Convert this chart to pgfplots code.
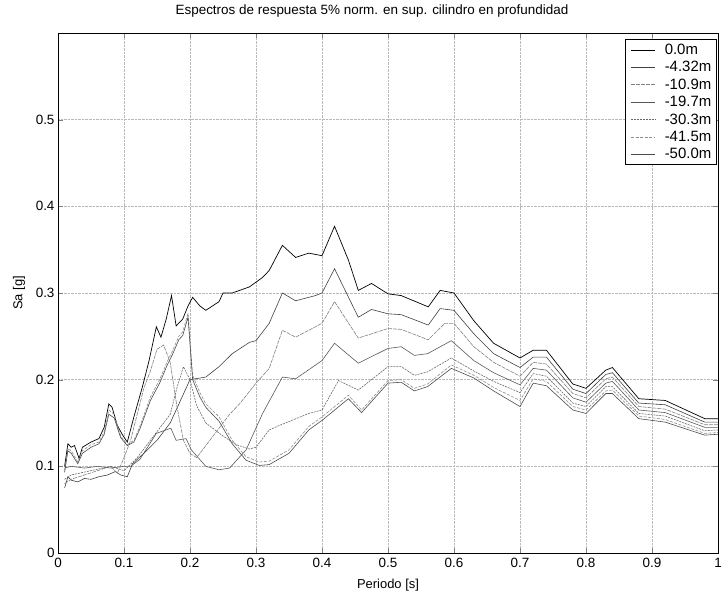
\documentclass[border=0pt]{standalone}
\usepackage{pgfplots}
\pgfplotsset{compat=1.18}
\usepackage{fontspec}
\setmainfont{Liberation Sans}
\begin{document}
\begin{tikzpicture}
\begin{axis}[
  name=ax,
  scale only axis,
  width=660bp, height=520bp,
  xmin=0, xmax=1, ymin=0, ymax=0.6,
  xtick={0,0.1,0.2,0.3,0.4,0.5,0.6,0.7,0.8,0.9,1},
  xticklabels={0,0.1,0.2,0.3,0.4,0.5,0.6,0.7,0.8,0.9,1},
  ytick={0,0.1,0.2,0.3,0.4,0.5,0.6},
  yticklabels={0,0.1,0.2,0.3,0.4,0.5,},
  tick align=inside,
  tick pos=both,
  major tick length=5bp,
  grid=major,
  grid style={densely dotted, gray!55, line width=0.4pt},
  axis line style={black, line width=0.6pt},
  /pgf/number format/assume math mode=true,
  tick label style={font=\fontsize{13.5}{15}\selectfont},
  xticklabel style={yshift=-2bp},
  xlabel={Periodo [s]}, ylabel={Sa [g]},
  label style={font=\fontsize{13}{15}\selectfont},
  xlabel style={at={(axis description cs:0.5,0)}, anchor=base, yshift=-36bp},
  ylabel style={at={(axis description cs:-0.054,0.5)}, anchor=base},
  title={Espectros de respuesta 5\% norm. en sup. cilindro en profundidad},
  title style={font=\fontsize{13.5}{15}\selectfont, at={(axis description cs:0.5,1)}, anchor=base, yshift=13bp, xshift=-16bp},
  legend style={at={(0.997,0.988)}, anchor=north east, draw=black, line width=0.5pt,
    font=\fontsize{15}{17}\selectfont, row sep=1.5bp, inner sep=2.5bp},
  legend cell align=left,
  legend image code/.code={\draw[#1] (0.1cm,0cm) -- (0.95cm,0cm); \path (0cm,0cm) (1.2cm,0cm);},
]
\addplot[black, line width=0.7pt] coordinates {(0.01,0.100)(0.015,0.126)(0.02,0.122)(0.025,0.124)(0.032,0.109)(0.037,0.122)(0.05,0.128)(0.062,0.132)(0.07,0.145)(0.077,0.172)(0.082,0.168)(0.09,0.147)(0.098,0.136)(0.105,0.128)(0.115,0.157)(0.128,0.192)(0.138,0.222)(0.149,0.261)(0.156,0.249)(0.164,0.270)(0.172,0.297)(0.179,0.262)(0.189,0.270)(0.197,0.285)(0.204,0.295)(0.215,0.285)(0.224,0.280)(0.244,0.290)(0.25,0.300)(0.264,0.300)(0.29,0.307)(0.31,0.318)(0.32,0.326)(0.34,0.355)(0.36,0.341)(0.38,0.346)(0.40,0.343)(0.419,0.377)(0.44,0.338)(0.455,0.303)(0.475,0.311)(0.50,0.299)(0.52,0.297)(0.561,0.284)(0.579,0.303)(0.60,0.300)(0.63,0.268)(0.66,0.242)(0.70,0.225)(0.72,0.234)(0.74,0.234)(0.78,0.195)(0.80,0.190)(0.83,0.211)(0.84,0.214)(0.88,0.178)(0.92,0.176)(0.98,0.155)(1.0,0.155)};
\addlegendentry{0.0m}
\addplot[black!75, line width=0.6pt] coordinates {(0.01,0.075)(0.015,0.088)(0.02,0.084)(0.03,0.082)(0.04,0.086)(0.05,0.085)(0.062,0.088)(0.075,0.090)(0.087,0.094)(0.095,0.090)(0.105,0.088)(0.113,0.103)(0.13,0.115)(0.15,0.130)(0.17,0.150)(0.185,0.175)(0.20,0.200)(0.224,0.203)(0.244,0.215)(0.264,0.230)(0.29,0.243)(0.30,0.245)(0.32,0.265)(0.34,0.300)(0.36,0.291)(0.39,0.297)(0.40,0.300)(0.419,0.328)(0.455,0.272)(0.475,0.281)(0.50,0.276)(0.52,0.275)(0.561,0.263)(0.579,0.282)(0.60,0.280)(0.63,0.253)(0.66,0.230)(0.70,0.214)(0.72,0.226)(0.74,0.226)(0.78,0.189)(0.80,0.184)(0.83,0.206)(0.84,0.208)(0.88,0.173)(0.92,0.171)(0.98,0.151)(1.0,0.151)};
\addlegendentry{-4.32m}
\addplot[black!50, line width=0.6pt, dash pattern=on 4pt off 1pt] coordinates {(0.01,0.080)(0.02,0.085)(0.04,0.090)(0.06,0.095)(0.08,0.100)(0.09,0.092)(0.10,0.110)(0.11,0.130)(0.12,0.160)(0.13,0.190)(0.14,0.210)(0.15,0.235)(0.16,0.240)(0.17,0.220)(0.18,0.170)(0.19,0.130)(0.20,0.115)(0.21,0.110)(0.22,0.120)(0.24,0.140)(0.26,0.160)(0.275,0.172)(0.30,0.196)(0.32,0.213)(0.34,0.257)(0.36,0.249)(0.40,0.265)(0.419,0.290)(0.455,0.248)(0.50,0.259)(0.52,0.258)(0.561,0.246)(0.586,0.265)(0.60,0.265)(0.63,0.238)(0.66,0.220)(0.70,0.204)(0.72,0.220)(0.74,0.218)(0.78,0.184)(0.80,0.179)(0.83,0.201)(0.84,0.203)(0.88,0.169)(0.92,0.166)(0.98,0.148)(1.0,0.148)};
\addlegendentry{-10.9m}
\addplot[black!65, line width=0.6pt] coordinates {(0.01,0.098)(0.02,0.100)(0.04,0.098)(0.06,0.100)(0.08,0.098)(0.10,0.100)(0.11,0.100)(0.124,0.108)(0.149,0.138)(0.171,0.144)(0.179,0.130)(0.194,0.132)(0.202,0.119)(0.224,0.100)(0.244,0.096)(0.26,0.098)(0.285,0.119)(0.31,0.161)(0.34,0.203)(0.36,0.201)(0.40,0.222)(0.419,0.242)(0.455,0.219)(0.50,0.236)(0.52,0.238)(0.54,0.228)(0.56,0.230)(0.596,0.245)(0.63,0.222)(0.66,0.208)(0.70,0.194)(0.72,0.213)(0.74,0.211)(0.78,0.179)(0.80,0.174)(0.83,0.196)(0.84,0.198)(0.88,0.165)(0.92,0.162)(0.98,0.145)(1.0,0.145)};
\addlegendentry{-19.7m}
\addplot[black!60, line width=0.6pt, dash pattern=on 2pt off 1pt] coordinates {(0.01,0.085)(0.02,0.090)(0.05,0.095)(0.08,0.100)(0.10,0.095)(0.12,0.110)(0.14,0.130)(0.16,0.150)(0.17,0.160)(0.18,0.190)(0.19,0.215)(0.20,0.200)(0.21,0.170)(0.224,0.150)(0.25,0.135)(0.27,0.125)(0.29,0.120)(0.30,0.122)(0.32,0.142)(0.335,0.147)(0.38,0.161)(0.40,0.165)(0.425,0.199)(0.455,0.188)(0.50,0.215)(0.52,0.215)(0.54,0.205)(0.56,0.209)(0.596,0.225)(0.63,0.210)(0.66,0.198)(0.70,0.185)(0.72,0.207)(0.74,0.204)(0.78,0.173)(0.80,0.169)(0.83,0.192)(0.84,0.192)(0.88,0.161)(0.92,0.158)(0.98,0.141)(1.0,0.142)};
\addlegendentry{-30.3m}
\addplot[black!45, line width=0.6pt, dash pattern=on 3pt off 1.5pt] coordinates {(0.01,0.095)(0.015,0.120)(0.02,0.118)(0.03,0.105)(0.037,0.118)(0.05,0.125)(0.062,0.128)(0.07,0.140)(0.077,0.165)(0.085,0.160)(0.095,0.135)(0.105,0.125)(0.115,0.130)(0.124,0.146)(0.14,0.180)(0.154,0.200)(0.165,0.220)(0.174,0.234)(0.183,0.250)(0.189,0.255)(0.197,0.277)(0.204,0.205)(0.215,0.185)(0.224,0.172)(0.244,0.157)(0.264,0.130)(0.285,0.111)(0.305,0.105)(0.32,0.106)(0.35,0.119)(0.38,0.146)(0.40,0.157)(0.44,0.182)(0.46,0.165)(0.50,0.199)(0.52,0.200)(0.54,0.190)(0.56,0.195)(0.596,0.217)(0.63,0.205)(0.66,0.191)(0.70,0.176)(0.72,0.201)(0.74,0.198)(0.78,0.169)(0.80,0.165)(0.83,0.187)(0.84,0.188)(0.88,0.158)(0.92,0.154)(0.98,0.138)(1.0,0.139)};
\addlegendentry{-41.5m}
\addplot[black!70, line width=0.6pt] coordinates {(0.01,0.093)(0.015,0.118)(0.02,0.115)(0.03,0.103)(0.037,0.115)(0.05,0.122)(0.062,0.126)(0.07,0.137)(0.077,0.160)(0.085,0.156)(0.095,0.133)(0.105,0.124)(0.115,0.128)(0.124,0.143)(0.14,0.176)(0.154,0.196)(0.165,0.216)(0.174,0.230)(0.183,0.246)(0.189,0.251)(0.197,0.272)(0.204,0.200)(0.215,0.180)(0.224,0.168)(0.244,0.152)(0.264,0.126)(0.285,0.107)(0.305,0.101)(0.32,0.102)(0.35,0.115)(0.38,0.142)(0.40,0.153)(0.44,0.178)(0.46,0.162)(0.50,0.196)(0.52,0.197)(0.54,0.187)(0.56,0.192)(0.596,0.213)(0.63,0.202)(0.66,0.187)(0.70,0.169)(0.72,0.196)(0.74,0.193)(0.78,0.165)(0.80,0.161)(0.83,0.184)(0.84,0.184)(0.88,0.155)(0.92,0.151)(0.98,0.136)(1.0,0.137)};
\addlegendentry{-50.0m}
\end{axis}
\pgfresetboundingbox
\useasboundingbox ([shift={(-58bp,-40bp)}]ax.south west) rectangle ([shift={(5bp,33bp)}]ax.north east);
\end{tikzpicture}
\end{document}
